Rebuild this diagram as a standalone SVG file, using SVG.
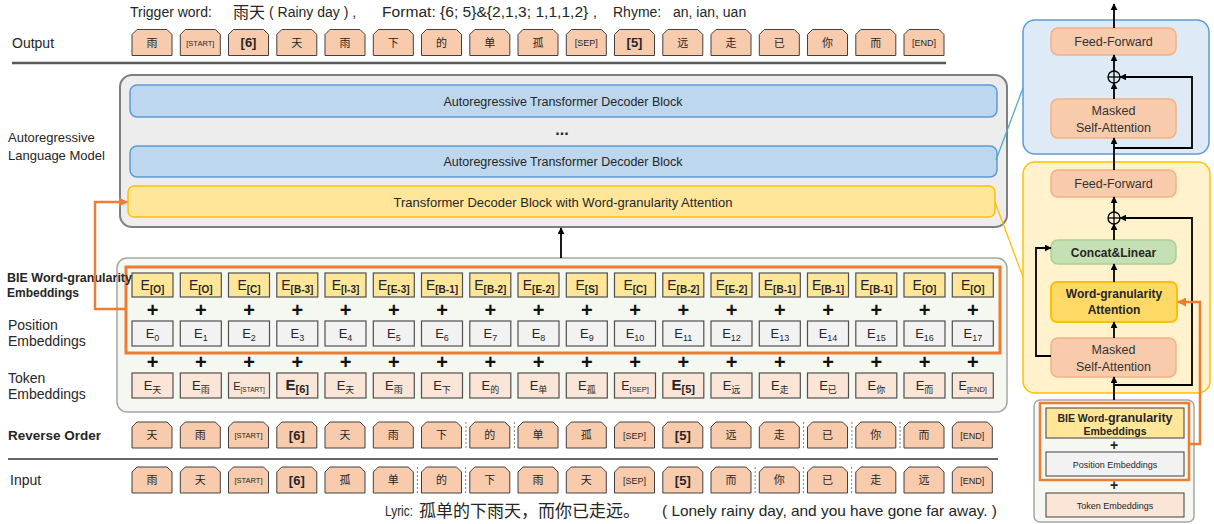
<svg xmlns="http://www.w3.org/2000/svg" xmlns:xlink="http://www.w3.org/1999/xlink" width="1214" height="524" viewBox="0 0 1214 524">
<style>
text{font-family:"Liberation Sans","Noto Sans CJK SC",sans-serif;fill:#262626}
.t14{font-size:14px}
.lbl{font-size:14px}
.lblb{font-size:12px;font-weight:bold}
.cjk{font-family:"Noto Sans CJK SC",sans-serif}
.tk{fill:#F8CBAD;stroke:#404040;stroke-width:1}
.tc{font-size:11px;text-anchor:middle}
.ts{font-size:7.5px;text-anchor:middle}
.ts2{font-size:9px;text-anchor:middle}
.tb{font-size:13px;font-weight:bold;text-anchor:middle}
.bie{fill:#FFE699;stroke:#505050;stroke-width:1.2}
.pos{fill:#F2F2F2;stroke:#505050;stroke-width:1.2}
.tok{fill:#FBE5D6;stroke:#505050;stroke-width:1.2}
.em{font-size:14px;text-anchor:middle}
.es{font-size:10px;font-weight:bold}
.pm{font-size:13px;text-anchor:middle}
.ps{font-size:9px}
.tcs{font-size:9px}
.plus{font-size:20px;font-weight:bold;text-anchor:middle;fill:#111}
.blk{font-size:12.5px;text-anchor:middle}
.rp{font-size:12.5px;text-anchor:middle;fill:#333}
.rpb{font-size:12px;font-weight:bold;text-anchor:middle}
.dash{stroke:#808080;stroke-width:1;stroke-dasharray:2,2}
.ln{fill:none;stroke:#000;stroke-width:1.8}
.or{fill:none;stroke:#ED7D31;stroke-width:2.5}
</style>
<defs>
<path id="tkp" d="M0,26 V5 L5,0 H35 L40,5 V26 Z"/>
<marker id="ah" viewBox="0 0 10 10" refX="9" refY="5" markerWidth="7" markerHeight="7" markerUnits="userSpaceOnUse" orient="auto"><path d="M0,0 L10,5 L0,10 Z" fill="#000"/></marker>
<marker id="aho" viewBox="0 0 10 10" refX="9" refY="5" markerWidth="9" markerHeight="9" markerUnits="userSpaceOnUse" orient="auto"><path d="M0,0 L10,5 L0,10 Z" fill="#ED7D31"/></marker>
</defs>

<!-- top captions -->
<g id="caption-top">
<text class="t14" x="130" y="17">Trigger word:</text>
<text class="cjk" x="233" y="18" font-size="16">雨天</text>
<text class="t14" x="269" y="17">( Rainy day ) ,</text>
<text class="t14" x="382" y="17" textLength="215" lengthAdjust="spacingAndGlyphs">Format: {6; 5}&amp;{2,1,3; 1,1,1,2} ,</text>
<text class="t14" x="613" y="17">Rhyme:</text>
<text class="t14" x="673" y="17">an, ian, uan</text>
</g>

<!-- left labels -->
<g id="labels">
<text class="lbl" x="12" y="48">Output</text>
<text x="8" y="142" font-size="13">Autoregressive</text>
<text x="8" y="160" font-size="13">Language Model</text>
<text class="lbl" x="8" y="330">Position</text>
<text class="lbl" x="8" y="346">Embeddings</text>
<text class="lbl" x="8" y="383">Token</text>
<text class="lbl" x="8" y="399">Embeddings</text>
<text x="8" y="440" font-size="13.5" font-weight="bold">Reverse Order</text>
<text class="lbl" x="10" y="485">Input</text>
</g>

<line x1="12" y1="63" x2="946" y2="63" stroke="#595959" stroke-width="2.5"/>
<line x1="8" y1="459" x2="998" y2="459" stroke="#333" stroke-width="1.5"/>

<!-- Output row -->
<g id="output-row">
<use href="#tkp" class="tk" x="132" y="29.5"/><text class="tc cjk" x="152" y="46.5">雨</text>
<use href="#tkp" class="tk" x="180.3" y="29.5"/><text class="ts" x="200.3" y="45.5">[START]</text>
<use href="#tkp" class="tk" x="228.5" y="29.5"/><text class="tb" x="248.5" y="47">[6]</text>
<use href="#tkp" class="tk" x="276.8" y="29.5"/><text class="tc cjk" x="296.8" y="46.5">天</text>
<use href="#tkp" class="tk" x="325" y="29.5"/><text class="tc cjk" x="345" y="46.5">雨</text>
<use href="#tkp" class="tk" x="373.3" y="29.5"/><text class="tc cjk" x="393.3" y="46.5">下</text>
<use href="#tkp" class="tk" x="421.5" y="29.5"/><text class="tc cjk" x="441.5" y="46.5">的</text>
<use href="#tkp" class="tk" x="469.8" y="29.5"/><text class="tc cjk" x="489.8" y="46.5">单</text>
<use href="#tkp" class="tk" x="518" y="29.5"/><text class="tc cjk" x="538" y="46.5">孤</text>
<use href="#tkp" class="tk" x="566.3" y="29.5"/><text class="ts2" x="586.3" y="46">[SEP]</text>
<use href="#tkp" class="tk" x="614.5" y="29.5"/><text class="tb" x="634.5" y="47">[5]</text>
<use href="#tkp" class="tk" x="662.8" y="29.5"/><text class="tc cjk" x="682.8" y="46.5">远</text>
<use href="#tkp" class="tk" x="711" y="29.5"/><text class="tc cjk" x="731" y="46.5">走</text>
<use href="#tkp" class="tk" x="759.3" y="29.5"/><text class="tc cjk" x="779.3" y="46.5">已</text>
<use href="#tkp" class="tk" x="807.5" y="29.5"/><text class="tc cjk" x="827.5" y="46.5">你</text>
<use href="#tkp" class="tk" x="855.8" y="29.5"/><text class="tc cjk" x="875.8" y="46.5">而</text>
<use href="#tkp" class="tk" x="904" y="29.5"/><text class="ts2" x="924" y="46">[END]</text>
</g>

<!-- Autoregressive LM -->
<g id="lm">
<rect x="120" y="75" width="887" height="152" rx="12" fill="#EDEDED" stroke="#7F7F7F" stroke-width="2"/>
</g>
<g id="block-1">
<rect x="130" y="85" width="867" height="32" rx="7" fill="#BDD7EE" stroke="#5B9BD5" stroke-width="1.5"/>
<text class="blk" x="563" y="105.5">Autoregressive Transformer Decoder Block</text>
</g>
<text x="562" y="135" font-size="16" font-weight="bold" text-anchor="middle">...</text>
<g id="block-2">
<rect x="130" y="146" width="867" height="31" rx="7" fill="#BDD7EE" stroke="#5B9BD5" stroke-width="1.5"/>
<text class="blk" x="563" y="166">Autoregressive Transformer Decoder Block</text>
</g>
<g id="block-wg">
<rect x="128" y="186" width="867" height="31" rx="6" fill="#FFE699" stroke="#FFC000" stroke-width="1.5"/>
<text x="563" y="206.5" font-size="13" text-anchor="middle">Transformer Decoder Block with Word-granularity Attention</text>
</g>

<!-- Embedding panel -->
<g id="emb-panel">
<rect x="117" y="258" width="890" height="154" rx="10" fill="#F5F7F1" stroke="#A6A6A6" stroke-width="1.5"/>
</g>

<g id="bie-row">
<rect class="bie" x="132" y="273" width="41" height="24"/><text class="em" x="152.5" y="290">E<tspan class="es" dy="3">[O]</tspan></text>
<rect class="bie" x="180.3" y="273" width="41" height="24"/><text class="em" x="200.8" y="290">E<tspan class="es" dy="3">[O]</tspan></text>
<rect class="bie" x="228.5" y="273" width="41" height="24"/><text class="em" x="249" y="290">E<tspan class="es" dy="3">[C]</tspan></text>
<rect class="bie" x="276.8" y="273" width="41" height="24"/><text class="em" x="297.3" y="290">E<tspan class="es" dy="3">[B-3]</tspan></text>
<rect class="bie" x="325" y="273" width="41" height="24"/><text class="em" x="345.5" y="290">E<tspan class="es" dy="3">[I-3]</tspan></text>
<rect class="bie" x="373.3" y="273" width="41" height="24"/><text class="em" x="393.8" y="290">E<tspan class="es" dy="3">[E-3]</tspan></text>
<rect class="bie" x="421.5" y="273" width="41" height="24"/><text class="em" x="442" y="290">E<tspan class="es" dy="3">[B-1]</tspan></text>
<rect class="bie" x="469.8" y="273" width="41" height="24"/><text class="em" x="490.3" y="290">E<tspan class="es" dy="3">[B-2]</tspan></text>
<rect class="bie" x="518" y="273" width="41" height="24"/><text class="em" x="538.5" y="290">E<tspan class="es" dy="3">[E-2]</tspan></text>
<rect class="bie" x="566.3" y="273" width="41" height="24"/><text class="em" x="586.8" y="290">E<tspan class="es" dy="3">[S]</tspan></text>
<rect class="bie" x="614.5" y="273" width="41" height="24"/><text class="em" x="635" y="290">E<tspan class="es" dy="3">[C]</tspan></text>
<rect class="bie" x="662.8" y="273" width="41" height="24"/><text class="em" x="683.3" y="290">E<tspan class="es" dy="3">[B-2]</tspan></text>
<rect class="bie" x="711" y="273" width="41" height="24"/><text class="em" x="731.5" y="290">E<tspan class="es" dy="3">[E-2]</tspan></text>
<rect class="bie" x="759.3" y="273" width="41" height="24"/><text class="em" x="779.8" y="290">E<tspan class="es" dy="3">[B-1]</tspan></text>
<rect class="bie" x="807.5" y="273" width="41" height="24"/><text class="em" x="828" y="290">E<tspan class="es" dy="3">[B-1]</tspan></text>
<rect class="bie" x="855.8" y="273" width="41" height="24"/><text class="em" x="876.3" y="290">E<tspan class="es" dy="3">[B-1]</tspan></text>
<rect class="bie" x="904" y="273" width="41" height="24"/><text class="em" x="924.5" y="290">E<tspan class="es" dy="3">[O]</tspan></text>
<rect class="bie" x="952.3" y="273" width="41" height="24"/><text class="em" x="972.8" y="290">E<tspan class="es" dy="3">[O]</tspan></text>
</g>

<g id="plus-1">
<text class="plus" x="152.5" y="317">+</text><text class="plus" x="200.8" y="317">+</text><text class="plus" x="249" y="317">+</text><text class="plus" x="297.3" y="317">+</text><text class="plus" x="345.5" y="317">+</text><text class="plus" x="393.8" y="317">+</text><text class="plus" x="442" y="317">+</text><text class="plus" x="490.3" y="317">+</text><text class="plus" x="538.5" y="317">+</text><text class="plus" x="586.8" y="317">+</text><text class="plus" x="635" y="317">+</text><text class="plus" x="683.3" y="317">+</text><text class="plus" x="731.5" y="317">+</text><text class="plus" x="779.8" y="317">+</text><text class="plus" x="828" y="317">+</text><text class="plus" x="876.3" y="317">+</text><text class="plus" x="924.5" y="317">+</text><text class="plus" x="972.8" y="317">+</text>
</g>

<g id="pos-row">
<rect class="pos" x="132" y="321" width="41" height="25"/><text class="pm" x="152.5" y="338">E<tspan class="ps" dy="3">0</tspan></text>
<rect class="pos" x="180.3" y="321" width="41" height="25"/><text class="pm" x="200.8" y="338">E<tspan class="ps" dy="3">1</tspan></text>
<rect class="pos" x="228.5" y="321" width="41" height="25"/><text class="pm" x="249" y="338">E<tspan class="ps" dy="3">2</tspan></text>
<rect class="pos" x="276.8" y="321" width="41" height="25"/><text class="pm" x="297.3" y="338">E<tspan class="ps" dy="3">3</tspan></text>
<rect class="pos" x="325" y="321" width="41" height="25"/><text class="pm" x="345.5" y="338">E<tspan class="ps" dy="3">4</tspan></text>
<rect class="pos" x="373.3" y="321" width="41" height="25"/><text class="pm" x="393.8" y="338">E<tspan class="ps" dy="3">5</tspan></text>
<rect class="pos" x="421.5" y="321" width="41" height="25"/><text class="pm" x="442" y="338">E<tspan class="ps" dy="3">6</tspan></text>
<rect class="pos" x="469.8" y="321" width="41" height="25"/><text class="pm" x="490.3" y="338">E<tspan class="ps" dy="3">7</tspan></text>
<rect class="pos" x="518" y="321" width="41" height="25"/><text class="pm" x="538.5" y="338">E<tspan class="ps" dy="3">8</tspan></text>
<rect class="pos" x="566.3" y="321" width="41" height="25"/><text class="pm" x="586.8" y="338">E<tspan class="ps" dy="3">9</tspan></text>
<rect class="pos" x="614.5" y="321" width="41" height="25"/><text class="pm" x="635" y="338">E<tspan class="ps" dy="3">10</tspan></text>
<rect class="pos" x="662.8" y="321" width="41" height="25"/><text class="pm" x="683.3" y="338">E<tspan class="ps" dy="3">11</tspan></text>
<rect class="pos" x="711" y="321" width="41" height="25"/><text class="pm" x="731.5" y="338">E<tspan class="ps" dy="3">12</tspan></text>
<rect class="pos" x="759.3" y="321" width="41" height="25"/><text class="pm" x="779.8" y="338">E<tspan class="ps" dy="3">13</tspan></text>
<rect class="pos" x="807.5" y="321" width="41" height="25"/><text class="pm" x="828" y="338">E<tspan class="ps" dy="3">14</tspan></text>
<rect class="pos" x="855.8" y="321" width="41" height="25"/><text class="pm" x="876.3" y="338">E<tspan class="ps" dy="3">15</tspan></text>
<rect class="pos" x="904" y="321" width="41" height="25"/><text class="pm" x="924.5" y="338">E<tspan class="ps" dy="3">16</tspan></text>
<rect class="pos" x="952.3" y="321" width="41" height="25"/><text class="pm" x="972.8" y="338">E<tspan class="ps" dy="3">17</tspan></text>
</g>

<g id="bie-pos-frame">
<rect x="126" y="267" width="874" height="86" fill="none" stroke="#ED7D31" stroke-width="3"/>
</g>

<g id="bie-label">
<text class="lblb" x="7" y="282" textLength="125" lengthAdjust="spacingAndGlyphs">BIE Word-granularity</text>
<text class="lblb" x="7" y="297">Embeddings</text>
</g>

<g id="plus-2">
<text class="plus" x="152.5" y="369">+</text><text class="plus" x="200.8" y="369">+</text><text class="plus" x="249" y="369">+</text><text class="plus" x="297.3" y="369">+</text><text class="plus" x="345.5" y="369">+</text><text class="plus" x="393.8" y="369">+</text><text class="plus" x="442" y="369">+</text><text class="plus" x="490.3" y="369">+</text><text class="plus" x="538.5" y="369">+</text><text class="plus" x="586.8" y="369">+</text><text class="plus" x="635" y="369">+</text><text class="plus" x="683.3" y="369">+</text><text class="plus" x="731.5" y="369">+</text><text class="plus" x="779.8" y="369">+</text><text class="plus" x="828" y="369">+</text><text class="plus" x="876.3" y="369">+</text><text class="plus" x="924.5" y="369">+</text><text class="plus" x="972.8" y="369">+</text>
</g>

<g id="tok-row">
<rect class="tok" x="132" y="373" width="41" height="25"/><text class="pm" x="152.5" y="390">E<tspan class="tcs cjk" dy="3">天</tspan></text>
<rect class="tok" x="180.3" y="373" width="41" height="25"/><text class="pm" x="200.8" y="390">E<tspan class="tcs cjk" dy="3">雨</tspan></text>
<rect class="tok" x="228.5" y="373" width="41" height="25"/><text x="249" y="389.5" font-size="11" text-anchor="middle">E<tspan font-size="6.5" dy="2">[START]</tspan></text>
<rect class="tok" x="276.8" y="373" width="41" height="25"/><text x="297.3" y="390" font-size="15" font-weight="bold" text-anchor="middle">E<tspan font-size="11" dy="3">[6]</tspan></text>
<rect class="tok" x="325" y="373" width="41" height="25"/><text class="pm" x="345.5" y="390">E<tspan class="tcs cjk" dy="3">天</tspan></text>
<rect class="tok" x="373.3" y="373" width="41" height="25"/><text class="pm" x="393.8" y="390">E<tspan class="tcs cjk" dy="3">雨</tspan></text>
<rect class="tok" x="421.5" y="373" width="41" height="25"/><text class="pm" x="442" y="390">E<tspan class="tcs cjk" dy="3">下</tspan></text>
<rect class="tok" x="469.8" y="373" width="41" height="25"/><text class="pm" x="490.3" y="390">E<tspan class="tcs cjk" dy="3">的</tspan></text>
<rect class="tok" x="518" y="373" width="41" height="25"/><text class="pm" x="538.5" y="390">E<tspan class="tcs cjk" dy="3">单</tspan></text>
<rect class="tok" x="566.3" y="373" width="41" height="25"/><text class="pm" x="586.8" y="390">E<tspan class="tcs cjk" dy="3">孤</tspan></text>
<rect class="tok" x="614.5" y="373" width="41" height="25"/><text x="635" y="390" font-size="12.5" text-anchor="middle">E<tspan font-size="7.5" dy="2">[SEP]</tspan></text>
<rect class="tok" x="662.8" y="373" width="41" height="25"/><text x="683.3" y="390" font-size="15" font-weight="bold" text-anchor="middle">E<tspan font-size="11" dy="3">[5]</tspan></text>
<rect class="tok" x="711" y="373" width="41" height="25"/><text class="pm" x="731.5" y="390">E<tspan class="tcs cjk" dy="3">远</tspan></text>
<rect class="tok" x="759.3" y="373" width="41" height="25"/><text class="pm" x="779.8" y="390">E<tspan class="tcs cjk" dy="3">走</tspan></text>
<rect class="tok" x="807.5" y="373" width="41" height="25"/><text class="pm" x="828" y="390">E<tspan class="tcs cjk" dy="3">已</tspan></text>
<rect class="tok" x="855.8" y="373" width="41" height="25"/><text class="pm" x="876.3" y="390">E<tspan class="tcs cjk" dy="3">你</tspan></text>
<rect class="tok" x="904" y="373" width="41" height="25"/><text class="pm" x="924.5" y="390">E<tspan class="tcs cjk" dy="3">而</tspan></text>
<rect class="tok" x="952.3" y="373" width="41" height="25"/><text x="972.8" y="390" font-size="12.5" text-anchor="middle">E<tspan font-size="7.5" dy="2">[END]</tspan></text>
</g>

<!-- Reverse Order row -->
<g id="reverse-row">
<use href="#tkp" class="tk" x="132" y="422"/><text class="tc cjk" x="152" y="439">天</text>
<use href="#tkp" class="tk" x="180.3" y="422"/><text class="tc cjk" x="200.3" y="439">雨</text>
<use href="#tkp" class="tk" x="228.5" y="422"/><text class="ts" x="248.5" y="438">[START]</text>
<use href="#tkp" class="tk" x="276.8" y="422"/><text class="tb" x="296.8" y="440">[6]</text>
<use href="#tkp" class="tk" x="325" y="422"/><text class="tc cjk" x="345" y="439">天</text>
<use href="#tkp" class="tk" x="373.3" y="422"/><text class="tc cjk" x="393.3" y="439">雨</text>
<use href="#tkp" class="tk" x="421.5" y="422"/><text class="tc cjk" x="441.5" y="439">下</text>
<use href="#tkp" class="tk" x="469.8" y="422"/><text class="tc cjk" x="489.8" y="439">的</text>
<use href="#tkp" class="tk" x="518" y="422"/><text class="tc cjk" x="538" y="439">单</text>
<use href="#tkp" class="tk" x="566.3" y="422"/><text class="tc cjk" x="586.3" y="439">孤</text>
<use href="#tkp" class="tk" x="614.5" y="422"/><text class="ts2" x="634.5" y="438.5">[SEP]</text>
<use href="#tkp" class="tk" x="662.8" y="422"/><text class="tb" x="682.8" y="440">[5]</text>
<use href="#tkp" class="tk" x="711" y="422"/><text class="tc cjk" x="731" y="439">远</text>
<use href="#tkp" class="tk" x="759.3" y="422"/><text class="tc cjk" x="779.3" y="439">走</text>
<use href="#tkp" class="tk" x="807.5" y="422"/><text class="tc cjk" x="827.5" y="439">已</text>
<use href="#tkp" class="tk" x="855.8" y="422"/><text class="tc cjk" x="875.8" y="439">你</text>
<use href="#tkp" class="tk" x="904" y="422"/><text class="tc cjk" x="924" y="439">而</text>
<use href="#tkp" class="tk" x="952.3" y="422"/><text class="ts2" x="972.3" y="438.5">[END]</text>
<line class="dash" x1="466" y1="422" x2="466" y2="448"/>
<line class="dash" x1="514.4" y1="422" x2="514.4" y2="448"/>
<line class="dash" x1="803.6" y1="422" x2="803.6" y2="448"/>
<line class="dash" x1="851.9" y1="422" x2="851.9" y2="448"/>
<line class="dash" x1="900.1" y1="422" x2="900.1" y2="448"/>
</g>

<!-- Input row -->
<g id="input-row">
<use href="#tkp" class="tk" x="132" y="467"/><text class="tc cjk" x="152" y="484">雨</text>
<use href="#tkp" class="tk" x="180.3" y="467"/><text class="tc cjk" x="200.3" y="484">天</text>
<use href="#tkp" class="tk" x="228.5" y="467"/><text class="ts" x="248.5" y="483">[START]</text>
<use href="#tkp" class="tk" x="276.8" y="467"/><text class="tb" x="296.8" y="485">[6]</text>
<use href="#tkp" class="tk" x="325" y="467"/><text class="tc cjk" x="345" y="484">孤</text>
<use href="#tkp" class="tk" x="373.3" y="467"/><text class="tc cjk" x="393.3" y="484">单</text>
<use href="#tkp" class="tk" x="421.5" y="467"/><text class="tc cjk" x="441.5" y="484">的</text>
<use href="#tkp" class="tk" x="469.8" y="467"/><text class="tc cjk" x="489.8" y="484">下</text>
<use href="#tkp" class="tk" x="518" y="467"/><text class="tc cjk" x="538" y="484">雨</text>
<use href="#tkp" class="tk" x="566.3" y="467"/><text class="tc cjk" x="586.3" y="484">天</text>
<use href="#tkp" class="tk" x="614.5" y="467"/><text class="ts2" x="634.5" y="483.5">[SEP]</text>
<use href="#tkp" class="tk" x="662.8" y="467"/><text class="tb" x="682.8" y="485">[5]</text>
<use href="#tkp" class="tk" x="711" y="467"/><text class="tc cjk" x="731" y="484">而</text>
<use href="#tkp" class="tk" x="759.3" y="467"/><text class="tc cjk" x="779.3" y="484">你</text>
<use href="#tkp" class="tk" x="807.5" y="467"/><text class="tc cjk" x="827.5" y="484">已</text>
<use href="#tkp" class="tk" x="855.8" y="467"/><text class="tc cjk" x="875.8" y="484">走</text>
<use href="#tkp" class="tk" x="904" y="467"/><text class="tc cjk" x="924" y="484">远</text>
<use href="#tkp" class="tk" x="952.3" y="467"/><text class="ts2" x="972.3" y="483.5">[END]</text>
<line class="dash" x1="417.4" y1="467" x2="417.4" y2="493"/>
<line class="dash" x1="465.6" y1="467" x2="465.6" y2="493"/>
<line class="dash" x1="755.1" y1="467" x2="755.1" y2="493"/>
<line class="dash" x1="803.4" y1="467" x2="803.4" y2="493"/>
<line class="dash" x1="851.6" y1="467" x2="851.6" y2="493"/>
</g>

<g id="caption-bottom">
<text class="t14" x="385" y="516" textLength="28" lengthAdjust="spacingAndGlyphs">Lyric:</text>
<text class="cjk" x="419" y="517" font-size="17">孤单的下雨天，而你已走远。</text>
<text x="662" y="516" font-size="14.5" textLength="335" lengthAdjust="spacingAndGlyphs">( Lonely rainy day, and you have gone far away. )</text>
</g>

<!-- Right detail panel -->
<g id="blue-detail">
<rect x="1023" y="20" width="186" height="134" rx="12" fill="#DEEBF7" stroke="#5B9BD5" stroke-width="1.5"/>
</g>
<g id="ff-top">
<rect x="1051" y="28" width="125" height="27" rx="7" fill="#F8CBAD" stroke="#F4B183" stroke-width="1.5"/>
<text class="rp" x="1113.5" y="46">Feed-Forward</text>
</g>
<g id="msa-top">
<rect x="1051" y="99" width="125" height="39" rx="7" fill="#F8CBAD" stroke="#F4B183" stroke-width="1.5"/>
<text class="rp" x="1113.5" y="115">Masked</text>
<text class="rp" x="1113.5" y="132">Self-Attention</text>
</g>

<g id="yellow-detail">
<rect x="1023" y="162" width="187" height="231" rx="12" fill="#FFF2CC" stroke="#FFC000" stroke-width="1.5"/>
</g>
<g id="ff-wg">
<rect x="1051" y="170" width="125" height="27" rx="7" fill="#F8CBAD" stroke="#F4B183" stroke-width="1.5"/>
<text class="rp" x="1113.5" y="188">Feed-Forward</text>
</g>
<g id="concat">
<rect x="1051" y="240" width="125" height="24" rx="7" fill="#C5E0B4" stroke="#A9D18E" stroke-width="1.5"/>
<text class="rpb" x="1113.5" y="256.5">Concat&amp;Linear</text>
</g>
<g id="wga">
<rect x="1051" y="282" width="126" height="40" rx="6" fill="#FFD966" stroke="#FFC000" stroke-width="2"/>
<text class="rpb" x="1114" y="298">Word-granularity</text>
<text class="rpb" x="1114" y="314">Attention</text>
</g>
<g id="msa-wg">
<rect x="1051" y="338" width="125" height="39" rx="7" fill="#F8CBAD" stroke="#F4B183" stroke-width="1.5"/>
<text class="rp" x="1113.5" y="354">Masked</text>
<text class="rp" x="1113.5" y="371">Self-Attention</text>
</g>

<g id="emb-detail">
<rect x="1034" y="400" width="160" height="122" rx="6" fill="#F5F7F1" stroke="#A6A6A6" stroke-width="1.5"/>
<rect x="1046" y="408" width="138" height="30" fill="#FFE699" stroke="#404040" stroke-width="1"/>
<text x="1115" y="422" font-size="10.5" font-weight="bold" text-anchor="middle">BIE Word-<tspan font-size="12.5">granularity</tspan></text>
<text x="1115" y="435" font-size="10.5" font-weight="bold" text-anchor="middle">Embeddings</text>
<text x="1114" y="450" font-size="14" font-weight="bold" text-anchor="middle" fill="#111">+</text>
<rect x="1046" y="452" width="138" height="24" fill="#F2F2F2" stroke="#404040" stroke-width="1"/>
<text x="1115" y="467.5" font-size="9" text-anchor="middle" fill="#333">Position Embeddings</text>
<rect x="1040" y="403" width="149" height="77" fill="none" stroke="#ED7D31" stroke-width="2.5"/>
<text x="1114" y="490" font-size="14" font-weight="bold" text-anchor="middle" fill="#111">+</text>
<rect x="1046" y="493" width="138" height="24" fill="#FBE5D6" stroke="#404040" stroke-width="1"/>
<text x="1115" y="508.5" font-size="9" text-anchor="middle" fill="#333">Token Embeddings</text>
</g>

<!-- connectors -->
<g id="connectors">
<line class="ln" x1="561" y1="258" x2="561" y2="228" marker-end="url(#ah)"/>
<polyline class="or" points="126,309 95,309 95,202 127,202" marker-end="url(#aho)"/>
<line x1="996" y1="160" x2="1023" y2="88" stroke="#4BACC6" stroke-width="1.3"/>
<line x1="995" y1="202" x2="1023" y2="277" stroke="#FFC000" stroke-width="1.3"/>

<line class="ln" x1="1114" y1="28" x2="1114" y2="4" marker-end="url(#ah)"/>
<line class="ln" x1="1114" y1="71" x2="1114" y2="55" marker-end="url(#ah)"/>
<line class="ln" x1="1114" y1="99" x2="1114" y2="83" marker-end="url(#ah)"/>
<line class="ln" x1="1114" y1="170" x2="1114" y2="138" marker-end="url(#ah)"/>
<polyline class="ln" points="1114,148 1192,148 1192,77 1120,77" marker-end="url(#ah)"/>
<circle cx="1114" cy="77" r="6" fill="none" stroke="#000" stroke-width="1.3"/>
<line x1="1108" y1="77" x2="1120" y2="77" stroke="#000" stroke-width="1.3"/>
<line x1="1114" y1="71" x2="1114" y2="83" stroke="#000" stroke-width="1.3"/>

<line class="ln" x1="1114" y1="212" x2="1114" y2="197" marker-end="url(#ah)"/>
<line class="ln" x1="1114" y1="240" x2="1114" y2="224" marker-end="url(#ah)"/>
<line class="ln" x1="1114" y1="282" x2="1114" y2="264" marker-end="url(#ah)"/>
<line class="ln" x1="1114" y1="338" x2="1114" y2="322" marker-end="url(#ah)"/>
<polyline class="ln" points="1051,356 1036,356 1036,248 1051,248" marker-end="url(#ah)"/>
<polyline class="ln" points="1114,385 1192,385 1192,218 1120,218" marker-end="url(#ah)"/>
<line class="ln" x1="1114" y1="400" x2="1114" y2="377" marker-end="url(#ah)"/>
<circle cx="1114" cy="218" r="6" fill="none" stroke="#000" stroke-width="1.3"/>
<line x1="1108" y1="218" x2="1120" y2="218" stroke="#000" stroke-width="1.3"/>
<line x1="1114" y1="212" x2="1114" y2="224" stroke="#000" stroke-width="1.3"/>
<polyline class="or" points="1189,444 1200,444 1200,302 1178,302" marker-end="url(#aho)"/>
</g>
</svg>
